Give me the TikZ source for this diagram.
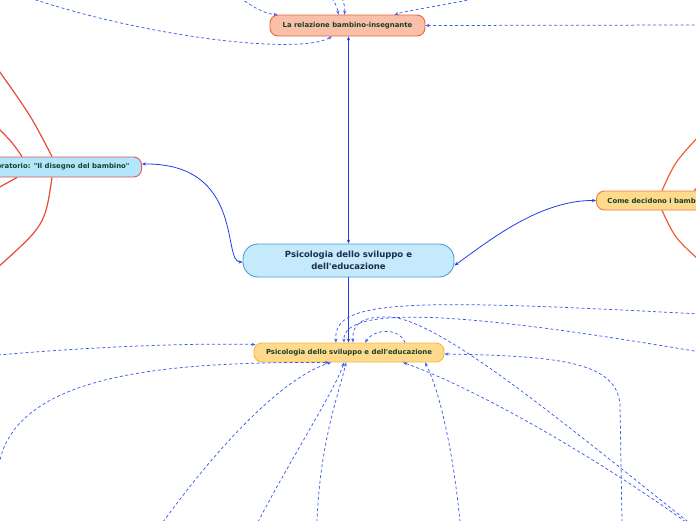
\documentclass[tikz,border=0pt]{standalone}
\usepackage{fontspec}
\setmainfont{DejaVu Sans}
\usetikzlibrary{arrows.meta,calc}
\definecolor{dblue}{HTML}{3D5EF0}
\definecolor{sblue}{HTML}{1F3FE8}
\definecolor{lred}{HTML}{E84A3C}
\definecolor{rred}{HTML}{EE6232}
\definecolor{tfill}{HTML}{F9BFA8}
\definecolor{tborder}{HTML}{E8653A}
\definecolor{lfill}{HTML}{B3E6FA}
\definecolor{lborder}{HTML}{E05555}
\definecolor{rfill}{HTML}{FFD98C}
\definecolor{rborder}{HTML}{F07A3A}
\definecolor{cfill}{HTML}{C5EAFB}
\definecolor{cborder}{HTML}{4A9ED6}
\definecolor{bfill}{HTML}{FFDA8C}
\definecolor{bborder}{HTML}{F4B83E}
\definecolor{gtext}{HTML}{17402A}
\definecolor{ntext}{HTML}{1C2B4F}
\tikzset{
  smallbox/.style={inner sep=0pt, line width=0.9pt, text=gtext,
    font=\bfseries\fontsize{6.9}{8}\selectfont},
  bigbox/.style={inner sep=0pt, line width=0.9pt, text=ntext, align=center,
    font=\bfseries\fontsize{8.5}{11.5}\selectfont},
  bluedash/.style={draw=dblue, line width=0.75pt, dash pattern=on 3pt off 2.5pt,
    -{Stealth[length=4pt,width=3.2pt]}},
  bluesolid/.style={draw=sblue, line width=0.8pt,
    {Stealth[length=4pt,width=3.2pt]}-{Stealth[length=4pt,width=3.2pt]}},
  redlink/.style={draw=lred, line width=1.2pt},
  orangelink/.style={draw=rred, line width=1.2pt}
}
\begin{document}
\begin{tikzpicture}[x=1pt,y=-1pt]
\useasboundingbox (0,0) rectangle (696,520);
\clip (0,0) rectangle (696,520);
\fill[white] (0,0) rectangle (696,520);

% nodes
\node[smallbox, fill=tfill, draw=tborder, minimum width=155pt, minimum height=21pt, rounded corners=8pt] (T) at (347.5,25.5) {La relazione bambino-insegnante};
\node[smallbox, fill=lfill, draw=lborder, inner xsep=12pt, minimum height=20pt, rounded corners=8pt, anchor=east] (L) at (142,167) {Laboratorio: \textquotedbl Il disegno del bambino\textquotedbl};
\node[smallbox, fill=rfill, draw=rborder, minimum height=19pt, inner xsep=11pt, rounded corners=8pt, anchor=west] (R) at (596,200.5) {Come decidono i bambini};
\node[bigbox, fill=cfill, draw=cborder, minimum width=211pt, minimum height=33pt, rounded corners=15pt] (C) at (348.5,260.5) {Psicologia dello sviluppo e\\dell\textquotesingle educazione};
\node[smallbox, fill=bfill, draw=bborder, minimum width=190pt, minimum height=19pt, rounded corners=8pt] (B) at (349,352.5) {Psicologia dello sviluppo e dell\textquotesingle educazione};

% free ends
\coordinate (ft1) at (30,-2);
\coordinate (ft2) at (240,-2);
\coordinate (ft3) at (332,-2);
\coordinate (ft4) at (342,-2);
\coordinate (ft5) at (478,-2);
\coordinate (ft6) at (700,25);
\coordinate (fb1) at (-2,355);
\coordinate (fb2) at (-1,465);
\coordinate (fb3) at (163,522);
\coordinate (fb4) at (258,522);
\coordinate (fb5) at (317,522);
\coordinate (fb6) at (460,522);
\coordinate (fb7) at (622,522);
\coordinate (fb8) at (690,525);
\coordinate (fb9) at (700,314);
\coordinate (fb10) at (700,352);
\coordinate (fb11) at (692,525);

% solid main connectors
\draw[bluesolid] (C.north) -- (C.north |- T.south);
\draw[bluesolid] ([yshift=3pt]L.east) .. controls (245,163) and (222,262) .. ([yshift=-1.5pt]C.west);
\draw[bluesolid] ([yshift=-5pt]C.east) .. controls (490,240) and (540,200) .. (R.west);
\draw[draw=sblue, line width=0.8pt, -{Stealth[length=4pt,width=3.2pt]}] (C.south) -- (C.south |- B.north);

% dashed links to T
\draw[bluedash] (ft1) .. controls (150,38) and (300,55) .. ($(T.south)+(-15.5,0)$);
\draw[bluedash] (ft2) .. controls (255,8) and (265,14) .. ($(T.north)+(-70,0)$);
\draw[bluedash] (ft3) .. controls (337,7) .. ($(T.north)+(-9,0)$);
\draw[bluedash] (ft4) .. controls (345,7) .. ($(T.north)+(-3,0)$);
\draw[bluedash] (ft5) .. controls (440,6) and (410,10) .. ($(T.north)+(47,0)$);
\draw[bluedash] (ft6) -- (T.east);

% dashed links to B
\draw[bluedash] (fb1) .. controls (100,346) and (200,343) .. ($(B.north west)+(2,2)$);
\draw[bluedash] (fb2) .. controls (15,370) and (180,362) .. ($(B.south)+(-20,0)$);
\draw[bluedash] (fb3) .. controls (230,430) and (290,375) .. ($(B.south)+(-18,0)$);
\draw[bluedash] (fb4) .. controls (290,460) and (335,390) .. ($(B.south)+(-5,0)$);
\draw[bluedash] (fb5) .. controls (320,440) and (340,390) .. ($(B.south)+(-3,0)$);
\draw[bluedash] (fb6) .. controls (452,440) and (437,385) .. ($(B.south)+(76,0)$);
\draw[bluedash] (fb7) -- (620,405) .. controls (617,362) and (560,356) .. ($(B.east)+(0,1.5)$);
\draw[bluedash] (fb8) .. controls (600,460) and (480,390) .. ($(B.south)+(54,0)$);
\draw[bluedash] (fb9) .. controls (400,298) and (333,300) .. ($(B.north)+(-13,0)$);
\draw[bluedash] (fb10) .. controls (500,318) and (342,300) .. ($(B.north)+(-5,0)$);
\draw[bluedash] (fb11) .. controls (560,420) and (440,320) .. (390,317) .. controls (360,316) and (352,325) .. ($(B.north)+(4,0)$);
\draw[bluedash] ($(B.north)+(56,0)$) .. controls (400,328) and (375,328) .. ($(B.north)+(16,0)$);

% red links from L
\coordinate (lu) at (52,157);
\coordinate (ld) at (52,177);
\draw[redlink] (lu |- L.north) .. controls (31,116) .. (-3,68);
\draw[redlink] (ld |- L.south) .. controls (45,225) .. (-3,268);
\draw[redlink] ($(lu |- L.north)+(-30,0)$) .. controls (12,142) .. (-2,128);
\draw[redlink] ($(ld |- L.south)+(-35,0)$) .. controls (8,182) .. (-2,188);

% orange links from R
\draw[orangelink] ($(R.north west)+(66,0)$) .. controls (675,162) .. (699,136);
\draw[orangelink] ($(R.south west)+(66,0)$) .. controls (675,238) .. (699,260);
\draw[orangelink] ($(R.north west)+(98,0)$) -- (699,186);
\end{tikzpicture}
\end{document}
